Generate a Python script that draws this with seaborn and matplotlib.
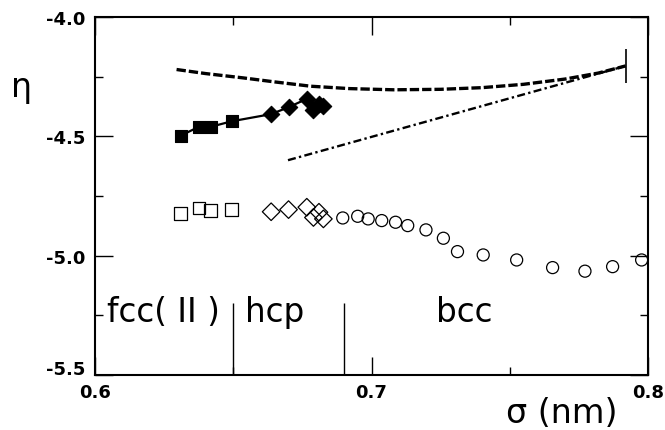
import matplotlib
matplotlib.use("Agg")
import matplotlib.pyplot as plt
import matplotlib.transforms as mtransforms
import seaborn as sns
import pandas as pd
from matplotlib.ticker import MultipleLocator

# ---- data ----
fcc_sigma = [0.631, 0.6376, 0.6419, 0.6494]
fcc_eta_filled = [-4.497, -4.46, -4.46, -4.437]
fcc_eta_open = [-4.825, -4.800, -4.811, -4.807]

hcp_sigma = [0.6637, 0.6700, 0.6766, 0.6790, 0.6810, 0.6826]
hcp_eta_filled = [-4.407, -4.378, -4.343, -4.388, -4.365, -4.372]
hcp_eta_open = [-4.816, -4.807, -4.797, -4.840, -4.818, -4.846]

bcc_sigma = [0.6896, 0.6950, 0.6988, 0.7037, 0.7087, 0.7131, 0.7197, 0.7260,
             0.7311, 0.7404, 0.7525, 0.7655, 0.7772, 0.7872, 0.7977]
bcc_eta_open = [-4.842, -4.835, -4.846, -4.853, -4.860, -4.874, -4.892, -4.927,
                -4.983, -4.997, -5.018, -5.050, -5.065, -5.046, -5.018]

dash_sigma = [0.6295, 0.640, 0.6535, 0.665, 0.678, 0.692, 0.708, 0.725,
              0.740, 0.755, 0.770, 0.782, 0.7919]
dash_eta = [-4.220, -4.237, -4.255, -4.272, -4.290, -4.300, -4.305, -4.303,
            -4.296, -4.282, -4.260, -4.235, -4.205]

dashdot_sigma = [0.6698, 0.7919]
dashdot_eta = [-4.600, -4.205]

end_sigma = 0.7919
end_eta_range = [-4.134, -4.276]

phase_bounds = [0.65, 0.69]
phase_line_top = -5.20
phase_labels = ["fcc( II )", "hcp", "bcc"]
phase_label_sigma = [0.6246, 0.6651, 0.7335]
phase_label_eta = -5.235

x_ticks = [0.6, 0.7, 0.8]
y_ticks = [-4.0, -4.5, -5.0, -5.5]

# ---- figure ----
sns.set_style("white")
plt.rcParams['font.family'] = ['DejaVu Sans']
plt.rcParams['text.color'] = 'black'

fig = plt.figure(figsize=(6.65, 4.31), dpi=100)
ax = fig.add_axes([95/665, 1-376/431, (648-95)/665, (376-18)/431])

filled = pd.DataFrame({"sigma": fcc_sigma + hcp_sigma,
                       "eta": fcc_eta_filled + hcp_eta_filled})
sns.lineplot(data=filled, x="sigma", y="eta", ax=ax, color="black", lw=1.6,
             sort=False, estimator=None)
sns.scatterplot(x=fcc_sigma, y=fcc_eta_filled, ax=ax, marker="s", s=85,
                color="black", edgecolor="black", linewidth=0.8, zorder=3)
sns.scatterplot(x=hcp_sigma, y=hcp_eta_filled, ax=ax, marker="D", s=70,
                color="black", edgecolor="black", linewidth=0.8, zorder=3)

sns.scatterplot(x=fcc_sigma, y=fcc_eta_open, ax=ax, marker="s", s=85,
                facecolor="none", edgecolor="black", linewidth=0.9, zorder=3)
sns.scatterplot(x=hcp_sigma, y=hcp_eta_open, ax=ax, marker="D", s=80,
                facecolor="none", edgecolor="black", linewidth=0.9, zorder=3)
sns.scatterplot(x=bcc_sigma, y=bcc_eta_open, ax=ax, marker="o", s=75,
                facecolor="none", edgecolor="black", linewidth=0.9, zorder=3)

sns.lineplot(x=dash_sigma, y=dash_eta, ax=ax, color="black", lw=2.4,
             sort=False, estimator=None)
ax.lines[-1].set_dashes((2.8, 0.9))
sns.lineplot(x=dashdot_sigma, y=dashdot_eta, ax=ax, color="black", lw=1.7,
             sort=False, estimator=None)
ax.lines[-1].set_dashes((3.4, 1.4, 1.0, 1.4))

ax.vlines(end_sigma, end_eta_range[1], end_eta_range[0], color="black", lw=1.2)
ax.vlines(phase_bounds, -5.5, phase_line_top, color="black", lw=1.0)

for lab, sx in zip(phase_labels, phase_label_sigma):
    ax.text(sx, phase_label_eta, lab, fontsize=23.5, ha="center", va="center",
            color="black")

ax.set_xlim(0.6, 0.8)
ax.set_ylim(-5.5, -4.0)
ax.set_xticks(x_ticks)
ax.set_yticks(y_ticks)
ax.set_xticklabels([f"{v:.1f}" for v in x_ticks], fontweight="bold", fontsize=13)
ax.set_yticklabels([f"{v:.1f}" for v in y_ticks], fontweight="bold", fontsize=13)
ax.xaxis.set_minor_locator(MultipleLocator(0.05))
ax.yaxis.set_minor_locator(MultipleLocator(0.25))
ax.tick_params(which="both", direction="in", top=True, right=True,
               bottom=True, left=True, color="black", width=1.0,
               labelcolor="black")
ax.tick_params(which="major", length=13)
ax.tick_params(which="minor", length=6)
ax.tick_params(axis="x", which="major", pad=6)
ax.tick_params(axis="y", which="major", pad=7)
for sp in ax.spines.values():
    sp.set_color("black")
    sp.set_linewidth(1.5)

# raise the lowest y tick label a little, as in the reference
lowest = ax.get_yticklabels()[-1]
lowest.set_transform(lowest.get_transform() +
                     mtransforms.ScaledTranslation(0, 6/72, fig.dpi_scale_trans))

ax.set_xlabel("")
ax.set_ylabel("")
fig.text(22/665, 1-88/431, "η", fontsize=24, ha="center", va="center",
         color="black")
fig.text(617/665, 1-414/431, "σ (nm)", fontsize=24, ha="right", va="center",
         color="black")

fig.savefig("out.png", dpi=100)
